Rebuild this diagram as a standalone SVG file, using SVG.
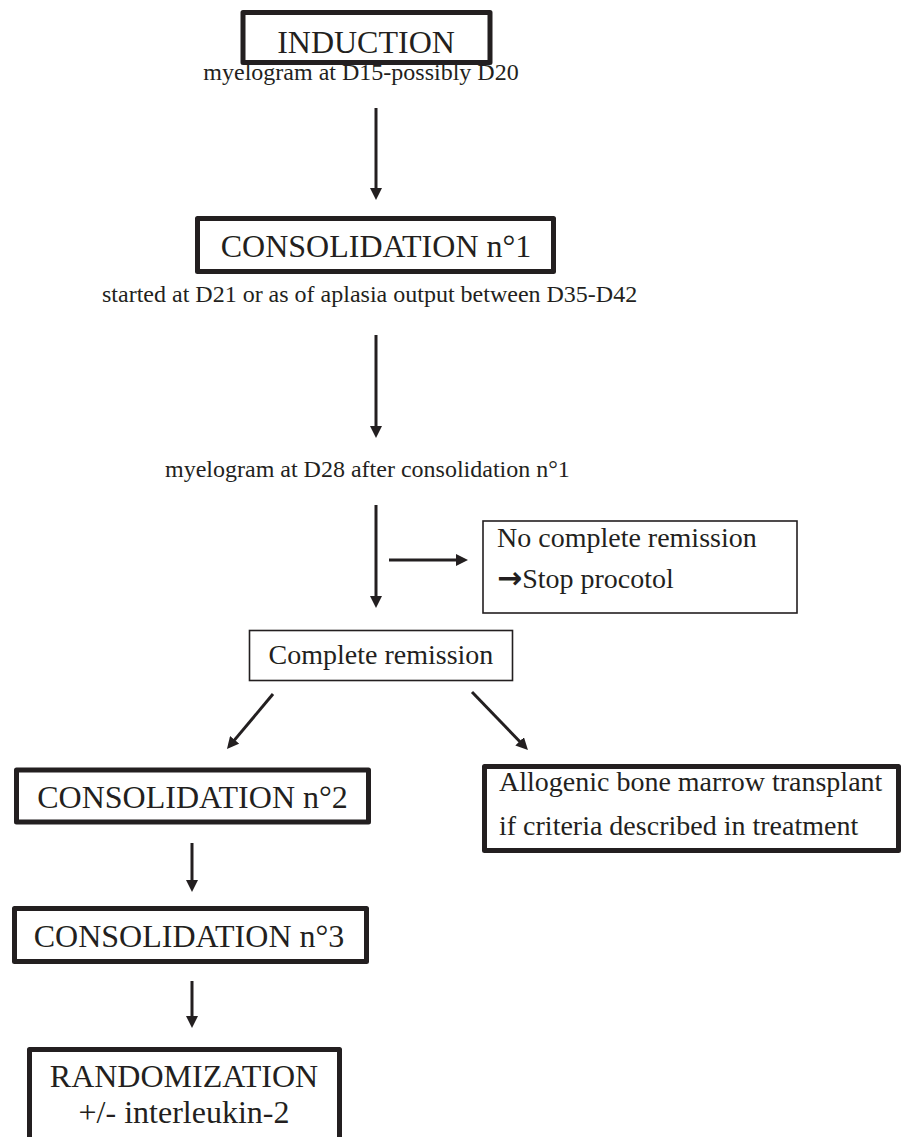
<svg xmlns="http://www.w3.org/2000/svg" width="901" height="1137" viewBox="0 0 901 1137">
<defs>
<marker id="ah" markerUnits="userSpaceOnUse" markerWidth="12" markerHeight="12" refX="4" refY="6" orient="auto">
<path d="M0,0 L12,6 L0,12 z" fill="#231f20"/>
</marker>
<style>
.thick{fill:#fff;stroke:#231f20;stroke-width:5;stroke-linejoin:round}
.thin{fill:#fff;stroke:#231f20;stroke-width:1.6}
.t{font-family:"Liberation Serif","Times New Roman",serif;fill:#231f20}
.big{font-size:32px}
.mid{font-size:28px}
.sm{font-size:24px}
.c{text-anchor:middle}
.arr{font-family:"DejaVu Sans",sans-serif;font-weight:bold}
.con line{stroke:#231f20;stroke-width:3;marker-end:url(#ah)}
</style>
</defs>
<rect width="901" height="1137" fill="#fff"/>
<g id="connectors" class="con">
<line x1="376" y1="108" x2="376" y2="192"/>
<line x1="376" y1="335" x2="376" y2="430"/>
<line x1="376" y1="505" x2="376" y2="600"/>
<line x1="389" y1="560" x2="460" y2="560"/>
<line x1="273" y1="694" x2="232.1" y2="742.9"/>
<line x1="472" y1="692" x2="522.4" y2="744.2"/>
<line x1="192" y1="843" x2="192" y2="884"/>
<line x1="192" y1="981" x2="192" y2="1020"/>
</g>
<g id="induction">
<rect class="thick" x="243" y="12.5" width="247" height="50"/>
<text class="t big c" x="366" y="53">INDUCTION</text>
</g>
<text id="label-d15" class="t sm c" x="361" y="80">myelogram at D15-possibly D20</text>
<g id="consolidation1">
<rect class="thick" x="197.5" y="218.5" width="356" height="53"/>
<text class="t big c" x="376" y="257">CONSOLIDATION n°1</text>
</g>
<text id="label-d21" class="t sm" x="102" y="302">started at D21 or as of aplasia output between D35-D42</text>
<text id="label-d28" class="t sm" x="165" y="477">myelogram at D28 after consolidation n°1</text>
<g id="no-remission">
<rect class="thin" x="483" y="521" width="314" height="92"/>
<text class="t mid" x="497" y="547">No complete remission</text>
<text class="t mid" x="497" y="588"><tspan class="arr" font-size="30">→</tspan>Stop procotol</text>
</g>
<g id="complete-remission">
<rect class="thin" x="249.5" y="630.5" width="263" height="50"/>
<text class="t mid c" x="381" y="664">Complete remission</text>
</g>
<g id="consolidation2">
<rect class="thick" x="16.5" y="770" width="352" height="52"/>
<text class="t big c" x="192.5" y="808">CONSOLIDATION n°2</text>
</g>
<g id="allogenic">
<rect class="thick" x="484.5" y="766.5" width="414" height="84"/>
<text class="t mid" x="499" y="791">Allogenic bone marrow transplant</text>
<text class="t mid" x="499" y="835">if criteria described in treatment</text>
</g>
<g id="consolidation3">
<rect class="thick" x="14.5" y="908.5" width="352" height="53"/>
<text class="t big c" x="189" y="947">CONSOLIDATION n°3</text>
</g>
<g id="randomization">
<rect class="thick" x="29.5" y="1049.5" width="310" height="100"/>
<text class="t big c" x="184" y="1087">RANDOMIZATION</text>
<text class="t big c" x="184" y="1123">+/- interleukin-2</text>
</g>
</svg>
